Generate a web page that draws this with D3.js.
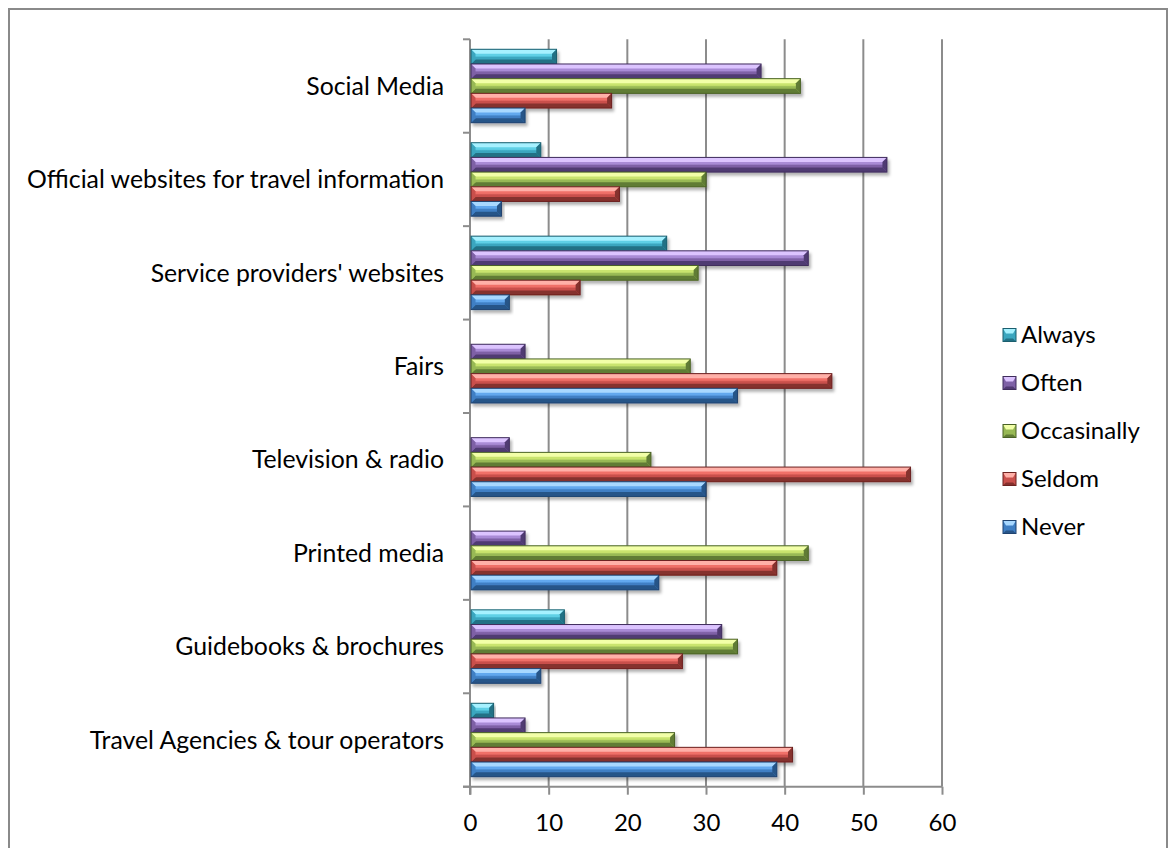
<!DOCTYPE html>
<html>
<head>
<meta charset="utf-8">
<script src="https://cdn.jsdelivr.net/npm/d3@7"></script>
<style>
  html, body { margin: 0; padding: 0; background: #fff; }
  svg { display: block; font-family: Lato, "Open Sans", sans-serif; }
</style>
</head>
<body>
<svg id="chart" width="1169" height="848"></svg>
<script>
// Information sources and how often respondents use them
const categories = [
  "Social Media",
  "Official websites for travel information",
  "Service providers' websites",
  "Fairs",
  "Television & radio",
  "Printed media",
  "Guidebooks & brochures",
  "Travel Agencies & tour operators"
];
const seriesNames = ["Always", "Often", "Occasinally", "Seldom", "Never"];
const always      = [11, 9, 25, 0, 0, 0, 12, 3];
const often       = [37, 53, 43, 7, 5, 7, 32, 7];
const occasinally = [42, 30, 29, 28, 23, 43, 34, 26];
const seldom      = [18, 19, 14, 46, 56, 39, 27, 41];
const never       = [7, 4, 5, 34, 30, 24, 9, 39];
const xTicks = [0, 10, 20, 30, 40, 50, 60];

const seriesValues = [always, often, occasinally, seldom, never];
const FONT_SIZE = 24;
const CAT_FONT_SIZE = 24.8;

// face colours per series: highlight, upper, base, lower shade, outline
const palette = {
  "Always":      { hi: "#a6f1ff", up: "#5fd0e6", base: "#3aa6bf", lo: "#217185", line: "#1b5e6e" },
  "Often":       { hi: "#dcc4ff", up: "#a98bd6", base: "#7e61a6", lo: "#503a72", line: "#3f2d5c" },
  "Occasinally": { hi: "#f2ffa8", up: "#c9e46e", base: "#98b955", lo: "#607c35", line: "#4a6226" },
  "Seldom":      { hi: "#ffb0a8", up: "#f07068", base: "#c9504c", lo: "#85302d", line: "#6c2220" },
  "Never":       { hi: "#a8d8ff", up: "#62a8ee", base: "#3f7fc4", lo: "#285588", line: "#1f4370" }
};

const svg = d3.select("#chart");

// outer chart frame
svg.append("rect")
  .attr("x", 9).attr("y", 9).attr("width", 1158).attr("height", 860)
  .attr("fill", "#fff").attr("stroke", "#8a8a8a").attr("stroke-width", 2);

const plot = { left: 470, right: 942, top: 39.3, bottom: 786.7 };

const x = d3.scaleLinear().domain([0, 60]).range([plot.left, plot.right]);
const y = d3.scaleBand().domain(categories)
  .range([plot.top, plot.bottom])
  .paddingInner(0.214).paddingOuter(0.107);
const ys = d3.scaleBand().domain(seriesNames).range([0, y.bandwidth()]);

const defs = svg.append("defs");
const shadow = defs.append("filter").attr("id", "shadow")
  .attr("x", "-5%").attr("y", "-30%").attr("width", "115%").attr("height", "190%");
shadow.append("feDropShadow")
  .attr("dx", 2).attr("dy", 3).attr("stdDeviation", 1.8)
  .attr("flood-color", "#000").attr("flood-opacity", 0.3);

seriesNames.forEach((s, i) => {
  const c = palette[s];
  const g = defs.append("linearGradient").attr("id", "face" + i)
    .attr("x1", 0).attr("y1", 0).attr("x2", 0).attr("y2", 1);
  g.append("stop").attr("offset", "0%").attr("stop-color", c.up);
  g.append("stop").attr("offset", "45%").attr("stop-color", c.up);
  g.append("stop").attr("offset", "55%").attr("stop-color", c.base);
  g.append("stop").attr("offset", "100%").attr("stop-color", c.base);
});

// vertical gridlines
svg.append("g").selectAll("line").data(xTicks.filter(t => t > 0)).join("line")
  .attr("x1", d => x(d)).attr("x2", d => x(d))
  .attr("y1", plot.top).attr("y2", plot.bottom)
  .attr("stroke", "#8c8c8c").attr("stroke-width", 2);

// bottom value axis
const xAxis = d3.axisBottom(x).tickValues(xTicks).tickSize(8);
const gx = svg.append("g").attr("transform", `translate(0,${plot.bottom})`).call(xAxis);
gx.select(".domain").remove();
gx.append("line").attr("x1", plot.left - 7).attr("x2", plot.right)
  .attr("stroke", "#8c8c8c").attr("stroke-width", 2);
gx.selectAll(".tick line").attr("stroke", "#8c8c8c").attr("stroke-width", 2);
gx.selectAll(".tick text").attr("fill", "#000").attr("font-size", FONT_SIZE)
  .attr("font-family", "Lato, 'Open Sans', sans-serif")
  .attr("y", 36).attr("dy", "0.35em");

// left category axis with ticks between categories
const boundaries = d3.range(categories.length + 1).map(i => plot.top + i * y.step());
const gy = svg.append("g");
gy.append("line").attr("x1", plot.left).attr("x2", plot.left)
  .attr("y1", plot.top).attr("y2", plot.bottom + 8)
  .attr("stroke", "#8c8c8c").attr("stroke-width", 2);
gy.selectAll("line.tk").data(boundaries).join("line").attr("class", "tk")
  .attr("x1", plot.left - 7).attr("x2", plot.left)
  .attr("y1", d => d).attr("y2", d => d)
  .attr("stroke", "#8c8c8c").attr("stroke-width", 2);
gy.selectAll("text").data(categories).join("text")
  .attr("x", 444).attr("y", d => y(d) + y.bandwidth() / 2)
  .attr("dy", "0.35em").attr("text-anchor", "end")
  .attr("font-size", CAT_FONT_SIZE).attr("fill", "#000")
  .text(d => d);

// bevelled bars
const bars = [];
categories.forEach((cat, ci) => {
  seriesNames.forEach((s, si) => {
    const v = seriesValues[si][ci];
    if (v > 0) bars.push({ cat, s, si, v });
  });
});

const gb = svg.append("g");
const barG = gb.selectAll("g.bar").data(bars).join("g").attr("class", "bar")
  .attr("filter", "url(#shadow)");

barG.each(function (d) {
  const g = d3.select(this);
  const c = palette[d.s];
  const x0 = x(0) + 1, x1 = x(d.v);
  const y0 = y(d.cat) + ys(d.s), y1 = y0 + ys.bandwidth();
  const w = x1 - x0, h = y1 - y0;
  const b = Math.min(4.5, w / 2, h / 3);
  // face
  g.append("rect").attr("x", x0).attr("y", y0).attr("width", w).attr("height", h)
    .attr("fill", `url(#face${d.si})`);
  // top bevel
  g.append("polygon")
    .attr("points", [[x0, y0], [x1, y0], [x1 - b, y0 + b], [x0 + b, y0 + b]].join(" "))
    .attr("fill", c.hi);
  // bottom bevel
  g.append("polygon")
    .attr("points", [[x0, y1], [x1, y1], [x1 - b, y1 - b], [x0 + b, y1 - b]].join(" "))
    .attr("fill", c.lo);
  // right end bevel
  g.append("polygon")
    .attr("points", [[x1, y0], [x1, y1], [x1 - b, y1 - b], [x1 - b, y0 + b]].join(" "))
    .attr("fill", c.lo);
  // left end bevel
  g.append("polygon")
    .attr("points", [[x0, y0], [x0, y1], [x0 + b, y1 - b], [x0 + b, y0 + b]].join(" "))
    .attr("fill", c.base);
  // outline
  g.append("rect").attr("x", x0).attr("y", y0).attr("width", w).attr("height", h)
    .attr("fill", "none").attr("stroke", c.line).attr("stroke-width", 1);
});

// legend
const legendY = d3.scalePoint().domain(seriesNames).range([335, 527]);
const lg = svg.append("g");
const items = lg.selectAll("g").data(seriesNames).join("g")
  .attr("transform", d => `translate(1003,${legendY(d)})`);
items.each(function (s) {
  const g = d3.select(this);
  const c = palette[s];
  const sz = 13, b = 3, t = -6.5;
  g.append("rect").attr("x", 0).attr("y", t).attr("width", sz).attr("height", sz)
    .attr("fill", c.base);
  g.append("polygon")
    .attr("points", [[0, t], [sz, t], [sz - b, t + b + 2], [b, t + b + 2]].join(" "))
    .attr("fill", c.hi);
  g.append("polygon")
    .attr("points", [[0, t + sz], [sz, t + sz], [sz - b, t + sz - b], [b, t + sz - b]].join(" "))
    .attr("fill", c.lo);
  g.append("rect").attr("x", 0).attr("y", t).attr("width", sz).attr("height", sz)
    .attr("fill", "none").attr("stroke", c.line).attr("stroke-width", 1);
  g.append("text").attr("x", 18).attr("dy", "0.35em")
    .attr("font-size", FONT_SIZE).attr("fill", "#000").text(s);
});
</script>
</body>
</html>
